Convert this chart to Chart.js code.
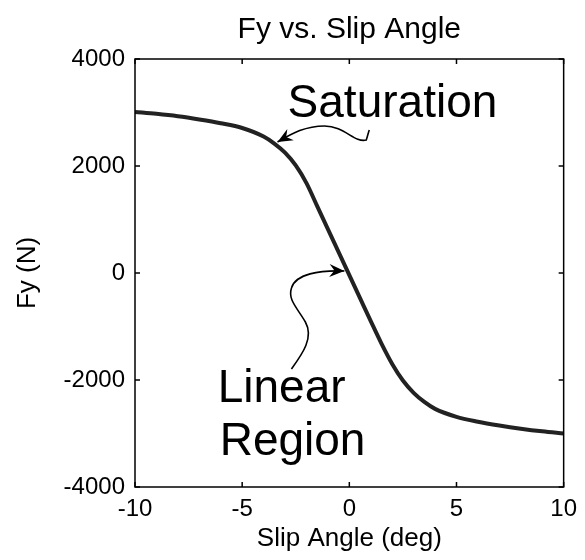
<!DOCTYPE html>
<html lang="en">
<head>
<meta charset="UTF-8">
<title>Fy vs. Slip Angle</title>
<script src="https://cdn.jsdelivr.net/npm/chart.js"></script>
<style>
  body { margin: 0; background: #fff; }
  canvas { display: block; }
</style>
</head>
<body>
<canvas id="fyChart" width="585" height="560"></canvas>
<script>
// tire curve
const slipAngle = [-10, -9, -8, -7, -6, -5, -4, -3.5, -3, -2.5, -2, -1.5, -1, -0.5, 0,
                   0.5, 1, 1.5, 2, 2.5, 3, 3.5, 4, 5, 6, 7, 8, 9, 10];
const lateralForce = [3010, 2975, 2930, 2870, 2800, 2710, 2550, 2420, 2250, 2010, 1680, 1250, 820, 390, -40,
                      -470, -900, -1320, -1700, -2010, -2240, -2410, -2540, -2690, -2780, -2850, -2910, -2960, -3000];
const xTicks = [-10, -5, 0, 5, 10];
const yTicks = [-4000, -2000, 0, 2000, 4000];

const chartTitle = 'Fy vs. Slip Angle';
const xTitle = 'Slip Angle (deg)';
const yTitle = 'Fy (N)';

// annotation text, anchored in data units (left edge, baseline)
const noteLabels = [
  { text: 'Saturation', x: -2.88, y: 2916 },
  { text: 'Linear', x: -6.14, y: -2411 },
  { text: 'Region', x: -6.05, y: -3402 }
];
// annotation arrows: start point then bezier triples, in data units
const saturationArrow = [
  [0.93, 2673],
  [0.88, 2617], [0.84, 2542], [0.79, 2486],
  [0.23, 2430], [-0.23, 2748], [-1.16, 2748],
  [-2.09, 2748], [-2.70, 2598], [-3.35, 2449]
];
const linearArrow = [
  [-2.70, -1795],
  [-2.23, -1533], [-1.63, -1215], [-2.05, -916],
  [-2.42, -654], [-2.88, -505], [-2.70, -280],
  [-2.51, -19], [-1.40, 56], [-0.23, 37]
];

const family = '"Liberation Sans", Arial, Helvetica, sans-serif';
const ink = '#000';

function drawArrow(ctx, pts) {
  ctx.beginPath();
  ctx.moveTo(pts[0][0], pts[0][1]);
  for (let i = 1; i + 2 < pts.length; i += 3) {
    ctx.bezierCurveTo(pts[i][0], pts[i][1], pts[i + 1][0], pts[i + 1][1], pts[i + 2][0], pts[i + 2][1]);
  }
  ctx.stroke();
  const tip = pts[pts.length - 1];
  const from = pts[pts.length - 2];
  const ang = Math.atan2(tip[1] - from[1], tip[0] - from[0]);
  const len = 15, half = 6.5, notch = 10;
  const back = (d, side) => [
    tip[0] - d * Math.cos(ang) - side * Math.sin(ang),
    tip[1] - d * Math.sin(ang) + side * Math.cos(ang)
  ];
  const a = back(len, half), b = back(notch, 0), c = back(len, -half);
  ctx.beginPath();
  ctx.moveTo(tip[0], tip[1]);
  ctx.lineTo(a[0], a[1]);
  ctx.lineTo(b[0], b[1]);
  ctx.lineTo(c[0], c[1]);
  ctx.closePath();
  ctx.fill();
}

const decorations = {
  id: 'decorations',
  afterDatasetsDraw(chart) {
    const { ctx, chartArea: area, scales: { x, y } } = chart;
    const toPx = p => [x.getPixelForValue(p[0]), y.getPixelForValue(p[1])];
    ctx.save();

    // box + inward ticks
    ctx.strokeStyle = ink;
    ctx.lineWidth = 1.5;
    ctx.strokeRect(area.left, area.top, area.width, area.height);
    const tl = 5;
    ctx.beginPath();
    xTicks.forEach(v => {
      const px = x.getPixelForValue(v);
      ctx.moveTo(px, area.bottom); ctx.lineTo(px, area.bottom - tl);
      ctx.moveTo(px, area.top); ctx.lineTo(px, area.top + tl);
    });
    yTicks.forEach(v => {
      const py = y.getPixelForValue(v);
      ctx.moveTo(area.left, py); ctx.lineTo(area.left + tl, py);
      ctx.moveTo(area.right, py); ctx.lineTo(area.right - tl, py);
    });
    ctx.stroke();

    // title
    ctx.fillStyle = ink;
    ctx.font = '30px ' + family;
    ctx.textAlign = 'center';
    ctx.textBaseline = 'middle';
    ctx.fillText(chartTitle, (area.left + area.right) / 2, 30);

    // notes
    ctx.font = '46px ' + family;
    ctx.textAlign = 'left';
    ctx.textBaseline = 'alphabetic';
    noteLabels.forEach(n => {
      const p = toPx([n.x, n.y]);
      ctx.fillText(n.text, p[0], p[1]);
    });
    ctx.lineWidth = 1.6;
    drawArrow(ctx, saturationArrow.map(toPx));
    drawArrow(ctx, linearArrow.map(toPx));

    ctx.restore();
  }
};

new Chart(document.getElementById('fyChart'), {
  type: 'line',
  data: {
    datasets: [{
      data: slipAngle.map((a, i) => ({ x: a, y: lateralForce[i] })),
      borderColor: '#222',
      borderWidth: 4,
      pointRadius: 0,
      cubicInterpolationMode: 'monotone',
      fill: false
    }]
  },
  options: {
    responsive: false,
    animation: false,
    layout: { padding: { top: 59, right: 20, left: 0, bottom: 0 } },
    plugins: {
      legend: { display: false },
      title: { display: false },
      tooltip: { enabled: false }
    },
    scales: {
      x: {
        type: 'linear',
        min: -10,
        max: 10,
        afterBuildTicks: s => { s.ticks = xTicks.map(v => ({ value: v })); },
        afterFit: s => { s.height = 73; },
        grid: { display: false, drawTicks: false },
        border: { display: false },
        ticks: {
          font: { family: family, size: 24 },
          color: ink,
          padding: 8,
          maxRotation: 0,
          autoSkip: false,
          callback: v => String(v)
        },
        title: {
          display: true,
          text: xTitle,
          font: { family: family, size: 26 },
          color: ink,
          padding: { top: 0, bottom: 6 }
        }
      },
      y: {
        type: 'linear',
        min: -4000,
        max: 4000,
        afterBuildTicks: s => { s.ticks = yTicks.map(v => ({ value: v })); },
        afterFit: s => { s.width = 135; },
        grid: { display: false, drawTicks: false },
        border: { display: false },
        ticks: {
          font: { family: family, size: 24 },
          color: ink,
          padding: 10,
          autoSkip: false,
          callback: v => String(v)
        },
        title: {
          display: true,
          text: yTitle,
          font: { family: family, size: 26 },
          color: ink,
          padding: { top: 12, bottom: 0 }
        }
      }
    }
  },
  plugins: [decorations]
});
</script>
</body>
</html>
